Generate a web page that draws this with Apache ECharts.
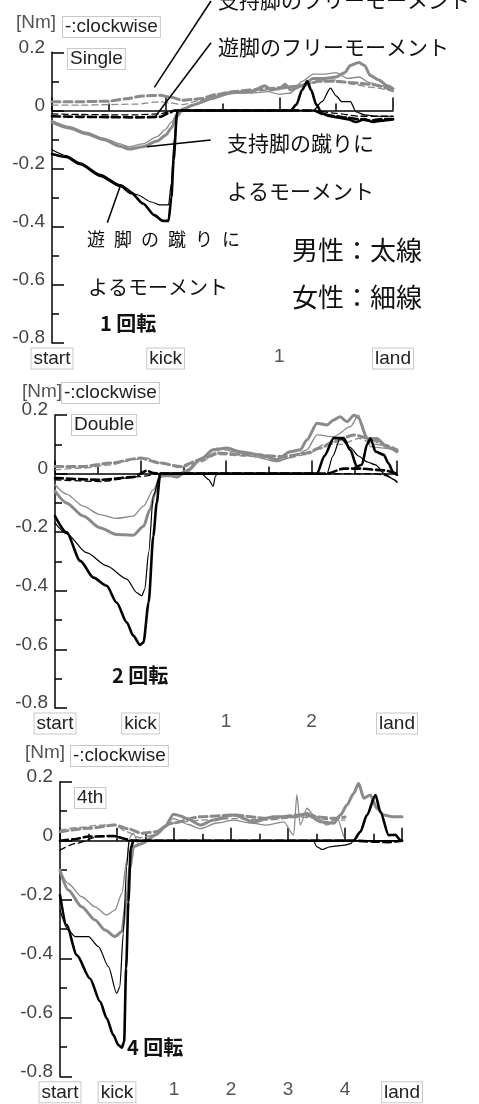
<!DOCTYPE html>
<html><head><meta charset="utf-8">
<script src="https://cdn.jsdelivr.net/npm/echarts@6/dist/echarts.min.js"></script>
<style>
html,body{margin:0;padding:0;background:#fff;width:479px;height:1104px;overflow:hidden}
.p{position:absolute;left:0;width:479px;overflow:hidden}
</style></head><body>
<div id="p1" class="p" style="top:0;height:370px"></div>
<div id="p2" class="p" style="top:370px;height:365px"></div>
<div id="p3" class="p" style="top:735px;height:369px"></div>
<script>
// ---------- tick labels ----------
const yTickLabels = ['-0.8','-0.6','-0.4','-0.2','0','0.2'];
const xTickLabels1 = ['start','kick','1','land'];
const xTickLabels2 = ['start','kick','1','2','land'];
const xTickLabels3 = ['start','kick','1','2','3','4','land'];

// ---------- Panel 1 (Single) ----------
const p1GrayThick = [[0,-0.04],[0.3,-0.06],[0.6,-0.08],[0.9,-0.1],[1.2,-0.123],[1.35,-0.133],[1.6,-0.125],[1.85,-0.105],[2.0,-0.085],[2.1,-0.06],[2.2,-0.02],[2.3,0.005],[2.5,0.02],[2.8,0.04],[3.1,0.06],[3.5,0.065],[3.75,0.085],[3.85,0.07],[4.0,0.075],[4.1,0.09],[4.2,0.07],[4.4,0.085],[4.6,0.11],[4.8,0.11],[5.0,0.115],[5.15,0.13],[5.25,0.155],[5.4,0.165],[5.5,0.155],[5.6,0.12],[5.75,0.105],[5.9,0.085],[6.0,0.075]];
const p1GrayThin = [[0,-0.035],[0.3,-0.055],[0.6,-0.075],[0.9,-0.095],[1.2,-0.115],[1.35,-0.125],[1.6,-0.115],[1.85,-0.09],[2.0,-0.065],[2.1,-0.04],[2.2,-0.01],[2.3,0.005],[2.6,0.025],[2.9,0.045],[3.2,0.06],[3.5,0.06],[3.8,0.065],[4.0,0.055],[4.2,0.06],[4.4,0.1],[4.6,0.125],[4.8,0.125],[5.0,0.13],[5.2,0.11],[5.4,0.115],[5.6,0.095],[5.8,0.085],[6.0,0.065]];
const p1GrayDashThick = [[0,0.03],[0.5,0.03],[1.0,0.032],[1.3,0.04],[1.6,0.05],[1.9,0.052],[2.1,0.045],[2.3,0.035],[2.6,0.04],[2.9,0.055],[3.2,0.065],[3.5,0.07],[3.8,0.075],[4.1,0.08],[4.4,0.085],[4.7,0.1],[5.0,0.1],[5.3,0.095],[5.6,0.09],[6.0,0.07]];
const p1GrayDashThin = [[0,0.018],[0.5,0.018],[1.0,0.02],[1.5,0.022],[1.9,0.03],[2.1,0.025],[2.3,0.02],[2.6,0.035],[2.9,0.05],[3.2,0.06],[3.5,0.065],[3.8,0.07],[4.1,0.075],[4.4,0.09],[4.7,0.1],[5.0,0.105],[5.3,0.09],[5.6,0.08],[6.0,0.065]];
const p1BlackDashThick = [[0,-0.02],[0.5,-0.022],[1.0,-0.023],[1.5,-0.024],[1.9,-0.022],[2.05,-0.01],[2.15,0],[4.6,0],[4.8,-0.015],[5.0,-0.02],[5.2,-0.025],[5.4,-0.03],[5.6,-0.035],[5.8,-0.03],[6.0,-0.03]];
const p1BlackDashThin = [[0,-0.012],[0.5,-0.014],[1.0,-0.015],[1.5,-0.015],[1.9,-0.012],[2.05,-0.005],[2.15,0],[4.6,0],[5.0,-0.01],[5.4,-0.02],[6.0,-0.02]];
const p1BlackThick = [[0,-0.15],[0.25,-0.16],[0.5,-0.185],[0.85,-0.225],[1.2,-0.26],[1.4,-0.285],[1.6,-0.32],[1.8,-0.36],[1.95,-0.38],[2.05,-0.38],[2.1,-0.3],[2.14,-0.17],[2.2,-0.01],[2.22,0],[4.2,0],[4.3,0.02],[4.4,0.07],[4.49,0.1],[4.56,0.07],[4.65,0.02],[4.75,-0.01],[4.9,-0.02],[5.05,-0.025],[5.2,-0.03],[5.35,-0.04],[5.5,-0.03],[5.65,-0.04],[5.8,-0.035],[6.0,-0.03]];
const p1BlackThin = [[0,-0.135],[0.25,-0.155],[0.5,-0.18],[0.85,-0.22],[1.2,-0.255],[1.5,-0.29],[1.75,-0.315],[1.9,-0.325],[2.05,-0.325],[2.1,-0.25],[2.15,-0.1],[2.2,0],[4.6,0],[4.75,0.03],[4.9,0.077],[5.0,0.05],[5.1,0.03],[5.25,0.03],[5.35,-0.005],[5.5,-0.015],[5.7,-0.02],[6.0,-0.02]];

// ---------- Panel 2 (Double) ----------
const p2BlackThick = [[0,-0.145],[0.27,-0.2],[0.59,-0.298],[0.9,-0.355],[1.21,-0.383],[1.44,-0.44],[1.68,-0.508],[1.83,-0.553],[1.99,-0.585],[2.07,-0.576],[2.19,-0.44],[2.3,-0.213],[2.38,-0.1],[2.46,0],[6.13,0],[6.3,0.06],[6.52,0.121],[6.75,0.121],[6.91,0.08],[7.06,0.024],[7.18,0.03],[7.3,0.1],[7.38,0.12],[7.5,0.075],[7.69,0.064],[7.8,0.035],[7.92,0.002],[8,-0.004]];
const p2BlackThin = [[0,-0.168],[0.27,-0.205],[0.74,-0.27],[1.21,-0.315],[1.68,-0.36],[1.91,-0.406],[2.03,-0.417],[2.1,-0.395],[2.19,-0.27],[2.3,-0.077],[2.46,0],[3.43,0],[3.59,-0.02],[3.7,-0.043],[3.75,-0.01],[3.8,0],[6.36,0],[6.5,0.06],[6.67,0.12],[6.9,0.09],[7.1,0.06],[7.3,0.04],[7.5,0.03],[7.7,0.0],[7.92,-0.02],[8,-0.03]];
const p2GrayThick = [[0,-0.06],[0.27,-0.1],[0.66,-0.145],[1.05,-0.185],[1.44,-0.208],[1.83,-0.21],[2.07,-0.18],[2.22,-0.123],[2.34,-0.066],[2.46,-0.01],[2.62,-0.004],[2.85,-0.012],[3.08,0.007],[3.4,0.047],[3.7,0.081],[4.02,0.087],[4.33,0.075],[4.8,0.064],[5.19,0.047],[5.5,0.075],[5.74,0.081],[5.89,0.115],[6.13,0.172],[6.36,0.166],[6.52,0.183],[6.67,0.194],[6.83,0.177],[7.0,0.2],[7.1,0.19],[7.3,0.12],[7.53,0.12],[7.77,0.09],[8,0.075]];
const p2GrayThin = [[0,-0.038],[0.27,-0.07],[0.66,-0.111],[1.05,-0.14],[1.44,-0.153],[1.83,-0.145],[2.07,-0.111],[2.3,-0.055],[2.46,-0.01],[2.77,-0.01],[3.08,0.013],[3.4,0.053],[3.79,0.087],[4.18,0.075],[4.64,0.058],[5.19,0.041],[5.58,0.058],[5.89,0.081],[6.13,0.132],[6.52,0.126],[6.91,0.16],[7.1,0.2],[7.22,0.149],[7.38,0.092],[7.69,0.087],[8,0.081]];
const p2GrayDashThick = [[0,0.024],[0.66,0.024],[1.29,0.036],[1.99,0.053],[2.46,0.036],[2.93,0.024],[3.4,0.047],[3.79,0.07],[4.57,0.064],[5.35,0.058],[5.89,0.07],[6.2,0.087],[6.52,0.109],[6.99,0.132],[7.38,0.12],[7.69,0.098],[8,0.081]];
const p2GrayDashThin = [[0,0.013],[0.66,0.019],[1.3,0.03],[1.83,0.047],[2.15,0.053],[2.5,0.035],[2.93,0.02],[3.4,0.04],[3.79,0.065],[4.5,0.06],[5.3,0.05],[5.9,0.065],[6.3,0.1],[6.7,0.1],[7.1,0.12],[7.5,0.1],[8,0.075]];
const p2BlackDashThick = [[0,-0.015],[1.05,-0.021],[1.83,-0.012],[2.15,0.01],[2.3,0.002],[2.46,0],[6.36,0],[6.75,0.017],[7.14,0.017],[7.69,0.011],[8,0]];
const p2BlackDashThin = [[0,-0.021],[1.05,-0.027],[2.0,-0.01],[2.46,0],[7.5,0],[7.69,-0.005],[8,-0.027]];

// ---------- Panel 3 (4th) ----------
const p3BlackThick = [[0,-0.184],[0.23,-0.286],[0.59,-0.388],[1.05,-0.467],[1.41,-0.546],[1.64,-0.602],[1.87,-0.659],[2.05,-0.693],[2.17,-0.702],[2.25,-0.681],[2.32,-0.433],[2.4,-0.207],[2.48,-0.026],[2.58,0],[10.3,0],[10.54,0.03],[10.77,0.087],[11.07,0.155],[11.24,0.098],[11.53,0.019],[11.77,0.02],[11.94,0.002],[12,0]];
const p3BlackThin = [[0,-0.235],[0.29,-0.303],[0.53,-0.325],[1.0,-0.325],[1.35,-0.359],[1.7,-0.427],[1.99,-0.518],[2.1,-0.495],[2.22,-0.314],[2.34,-0.088],[2.42,0],[8.9,0],[9.0,-0.02],[9.2,-0.03],[9.5,-0.02],[10.0,-0.015],[10.2,-0.01],[10.3,0],[12,0]];
const p3GrayThick = [[0,-0.1],[0.29,-0.167],[0.76,-0.224],[1.23,-0.269],[1.58,-0.303],[1.93,-0.325],[2.17,-0.308],[2.34,-0.201],[2.46,-0.088],[2.58,-0.02],[2.87,-0.01],[3.34,0.019],[3.7,0.05],[3.98,0.09],[4.2,0.085],[4.45,0.075],[4.92,0.053],[5.39,0.07],[6.09,0.087],[6.79,0.064],[7.49,0.081],[8.2,0.081],[8.67,0.092],[9.13,0.064],[9.6,0.059],[9.84,0.087],[10.07,0.121],[10.3,0.16],[10.48,0.194],[10.66,0.144],[10.89,0.155],[11.12,0.11],[11.36,0.087],[11.71,0.081],[12,0.081]];
const p3GrayThin = [[0,-0.1],[0.29,-0.145],[0.76,-0.19],[1.23,-0.224],[1.64,-0.252],[1.93,-0.235],[2.17,-0.179],[2.34,-0.066],[2.46,0.014],[2.58,0.025],[2.75,-0.01],[3.0,-0.005],[3.4,0.02],[3.98,0.075],[4.5,0.055],[4.92,0.041],[5.5,0.06],[6.09,0.07],[6.7,0.06],[7.26,0.053],[7.85,0.064],[8.2,0.019],[8.31,0.155],[8.43,0.053],[8.67,0.11],[8.9,0.087],[9.37,0.053],[9.72,0.076],[9.95,0.015]];
const p3GrayDashThick = [[0,0.03],[1.0,0.042],[1.93,0.053],[2.4,0.04],[2.87,0.025],[3.34,0.03],[3.92,0.059],[4.92,0.081],[6.09,0.087],[7.26,0.076],[8.43,0.087],[9.6,0.076],[10.0,0.08]];
const p3GrayDashThin = [[0,0.036],[0.7,0.045],[1.41,0.053],[1.9,0.055],[2.34,0.03],[2.8,0.01],[3.34,0.02],[3.92,0.06],[5,0.07],[6.09,0.075],[7.26,0.07],[8.43,0.08],[9.6,0.07],[10,0.07]];
const p3BlackDashThick = [[0,0],[0.5,0.005],[1.0,0.014],[1.87,0.016],[2.34,0.005],[2.58,0],[10.3,0],[11,-0.003],[11.5,-0.005],[12,0]];
const p3BlackDashThin = [[0,-0.032],[0.53,-0.01],[1.35,0.014],[2.05,0.014],[2.4,0],[12,0]];

// ---------- helpers ----------
const GRAY = '#8a8a8a';
function ln(data, color, width, dash) {
  return {type:'line', data, symbol:'none', showSymbol:false, smooth:0.25, smoothMonotone:'x',
    silent:true, animation:false,
    lineStyle:{color, width, type: dash ? dash : 'solid', cap:'round', join:'round'}};
}
function seriesFor(s) {
  return [
    ln(s.gdThin, GRAY, 1.3, [6,4]),
    ln(s.gdThick, GRAY, 3, [8,4]),
    ln(s.gThin, GRAY, 1.3),
    ln(s.gThick, GRAY, 3),
    ln(s.bdThin, '#000', 1.3, [6,4]),
    ln(s.bdThick, '#000', 2.6, [8,4]),
    ln(s.bThin, '#000', 1.2),
    ln(s.bThick, '#000', 2.6)
  ];
}
const LAT = 'Liberation Sans, Arial, sans-serif';
const JP = '"Noto Sans CJK JP", sans-serif';
function txt(x, y, s, o) {
  return {type:'text', x, y, z:100, silent:true,
    style:Object.assign({text:s, fontSize:19, fontFamily:LAT, fill:'#333', align:'left', verticalAlign:'middle'}, o||{})};
}
function boxT(x, y, s) {
  return txt(x, y, s, {fill:'#222', backgroundColor:'#fff', borderColor:'#c8c8c8', borderWidth:1, padding:[1,2,0,2]});
}
function jp(x, y, s, size, bold) {
  return txt(x, y, s, {fontFamily:JP, fontSize:size, fill:'#111', fontWeight: bold ? 'bold' : 'normal'});
}
function seg(x1, y1, x2, y2) {
  return {type:'line', z:100, silent:true, shape:{x1, y1, x2, y2}, style:{stroke:'#000', lineWidth:1.5}};
}
function makeOption(grid, xmax, xLabels, series, graphic) {
  const tickStyle = {color:'#000', width:1.5};
  return {
    animation:false,
    grid,
    xAxis:{type:'value', min:0, max:xmax, interval:2,
      axisLine:{show:true, lineStyle:tickStyle},
      axisTick:{show:true, inside:true, length:13, lineStyle:tickStyle},
      minorTick:{show:true, splitNumber:2, length:7, lineStyle:tickStyle},
      splitLine:{show:false}, minorSplitLine:{show:false},
      axisLabel:{show:true, margin:6, showMinLabel:true, showMaxLabel:true,
        formatter:function(v){
          const s = xLabels[Math.round(v/2)];
          if (s === undefined) return '';
          return /^\d+$/.test(s) ? '{num|' + s + '}' : '{box|' + s + '}';
        },
        rich:{
          box:{fontSize:19, fontFamily:LAT, color:'#222', borderColor:'#c8c8c8', borderWidth:1, padding:[1,2,0,2], backgroundColor:'#fff', lineHeight:19},
          num:{fontSize:19, fontFamily:LAT, color:'#555', lineHeight:19, padding:[0,0,4,0]}
        }}
    },
    yAxis:{type:'value', min:-0.8, max:0.2, interval:0.2,
      axisLine:{show:true, lineStyle:tickStyle},
      axisTick:{show:true, inside:true, length:12, lineStyle:tickStyle},
      minorTick:{show:true, splitNumber:2, length:7, lineStyle:tickStyle},
      splitLine:{show:false}, minorSplitLine:{show:false},
      axisLabel:{show:true, margin:7, fontSize:19, fontFamily:LAT, color:'#444',
        verticalAlign:'bottom', lineHeight:10,
        formatter:function(v){ return yTickLabels[Math.round((v+0.8)/0.2)]; }}
    },
    series,
    graphic
  };
}

// ---------- Panel 1 ----------
const c1 = echarts.init(document.getElementById('p1'));
c1.setOption(makeOption({left:52, top:52.3, width:341, height:293.7}, 6, xTickLabels1,
  seriesFor({gThick:p1GrayThick, gThin:p1GrayThin, gdThick:p1GrayDashThick, gdThin:p1GrayDashThin,
    bThick:p1BlackThick, bThin:p1BlackThin, bdThick:p1BlackDashThick, bdThin:p1BlackDashThin}),
  [
    txt(16, 23, '[Nm]', {fill:'#555'}),
    boxT(63, 27, '-:clockwise'),
    boxT(68, 59, 'Single'),
    jp(218, 0, '支持脚のフリーモーメント', 21),
    jp(218, 47, '遊脚のフリーモーメント', 21),
    jp(227, 143, '支持脚の蹴りに', 21),
    jp(227, 191, 'よるモーメント', 21),
    jp(87, 239, '遊\u2002脚\u2002の\u2002蹴\u2002り\u2002に', 18),
    jp(88, 287, 'よるモーメント', 20),
    jp(292, 250, '男性：太線', 26),
    jp(292, 297, '女性：細線', 26),
    jp(100, 323, '1 回転', 20, true),
    seg(154.3, 87.3, 211, 1),
    seg(155.7, 116, 211, 42.7),
    seg(146.7, 146.7, 210.7, 140),
    seg(107.3, 222.7, 120, 186.7)
  ]));

// ---------- Panel 2 ----------
const c2 = echarts.init(document.getElementById('p2'));
c2.setOption(makeOption({left:55, top:45, width:342, height:294.3}, 8, xTickLabels2,
  seriesFor({gThick:p2GrayThick, gThin:p2GrayThin, gdThick:p2GrayDashThick, gdThin:p2GrayDashThin,
    bThick:p2BlackThick, bThin:p2BlackThin, bdThick:p2BlackDashThick, bdThin:p2BlackDashThin}),
  [
    txt(22, 22, '[Nm]', {fill:'#555'}),
    boxT(62, 23, '-:clockwise'),
    boxT(72, 55, 'Double'),
    jp(112, 305, '2 回転', 20, true)
  ]));

// ---------- Panel 3 ----------
const c3 = echarts.init(document.getElementById('p3'));
c3.setOption(makeOption({left:60, top:46.7, width:342, height:295}, 12, xTickLabels3,
  seriesFor({gThick:p3GrayThick, gThin:p3GrayThin, gdThick:p3GrayDashThick, gdThin:p3GrayDashThin,
    bThick:p3BlackThick, bThin:p3BlackThin, bdThick:p3BlackDashThick, bdThin:p3BlackDashThin}),
  [
    txt(25, 18, '[Nm]', {fill:'#555'}),
    boxT(71, 21, '-:clockwise'),
    boxT(75, 63, '4th'),
    jp(127, 312, '4 回転', 20, true)
  ]));
</script>
</body></html>
